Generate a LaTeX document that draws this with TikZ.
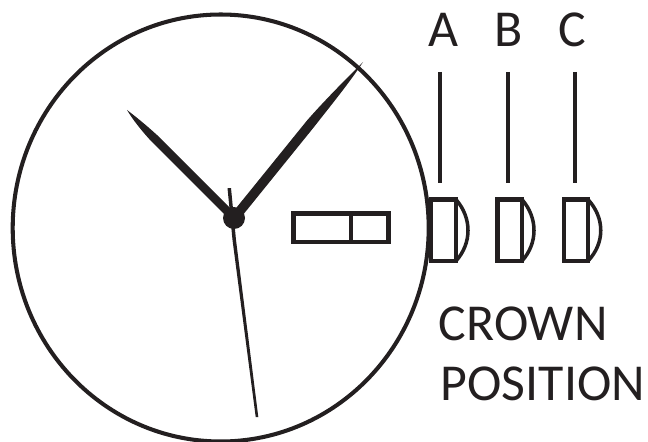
\documentclass[tikz,border=0pt]{standalone}
\usepackage{fontspec}
\setmainfont{Carlito}
\definecolor{ink}{HTML}{231F20}
\begin{document}
\begin{tikzpicture}[
    x=0.02cm, y=-0.02cm,
    outline/.style={draw=ink, line width=2.3pt},
    thin/.style={draw=ink, line width=2pt},
    hand/.style={fill=ink, draw=none},
    letter/.style={text=ink, font=\fontsize{29.5}{29.5}\selectfont, inner sep=0pt, anchor=base},
    caption/.style={text=ink, font=\fontsize{29.5}{29.5}\selectfont, inner sep=0pt, anchor=base west},
  ]
    \useasboundingbox (0,0) rectangle (648,442);

    % Dial -------------------------------------------------------------------
    \draw[outline] (220.7,228) ellipse (208 and 213.5);

    % Date window ------------------------------------------------------------
    \draw[outline] (293.5,213.5) rectangle (388.5,242);
    \draw[outline] (351,213.5) -- (351,242);

    % Hands ------------------------------------------------------------------
    \fill[hand] (127,110) .. controls (135,116) and (146,125) .. (157,135)
        -- (237,215) -- (231,221) -- (151,141) .. controls (141,130) and (133,120) .. cycle;
    \fill[hand] (363,62) .. controls (350,82) and (332,104) .. (314,127)
        -- (238,221) -- (230.5,215) -- (307,120.5) .. controls (325,100) and (345,80) .. cycle;
    \fill[hand] (227.5,188) -- (231,188) -- (236,240) -- (258.3,417) -- (255.7,417)
        -- (232.5,240) -- cycle;
    \node[circle, fill=ink, minimum size=0.44cm, inner sep=0pt] (pivot) at (234,218) {};

    % Crown positions --------------------------------------------------------
    \draw[outline] (431,199.5) rectangle (456,261);
    \draw[thin] (456,199.5) .. controls (472,218) and (472,243) .. (456,261);
    \draw[outline] (497.5,199.5) rectangle (522,261);
    \draw[thin] (522,199.5) .. controls (538,218) and (538,243) .. (522,261);
    \draw[outline] (564,199.5) rectangle (588,261);
    \draw[thin] (588,199.5) .. controls (605,218) and (605,243) .. (588,261);

    % Markers ----------------------------------------------------------------
    \draw[outline] (440,72) -- (440,183);
    \draw[outline] (508,72) -- (508,183);
    \draw[outline] (575,72) -- (575,183);

    % Labels -----------------------------------------------------------------
    \node[letter] (posA) at (443,47) {A};
    \node[letter] (posB) at (509,47) {B};
    \node[letter] (posC) at (572,47) {C};
    \node[caption] (crown)    at (438.5,340) {CROWN};
    \node[caption] (position) at (440.5,400) {POSITION};
  \end{tikzpicture}
\end{document}
